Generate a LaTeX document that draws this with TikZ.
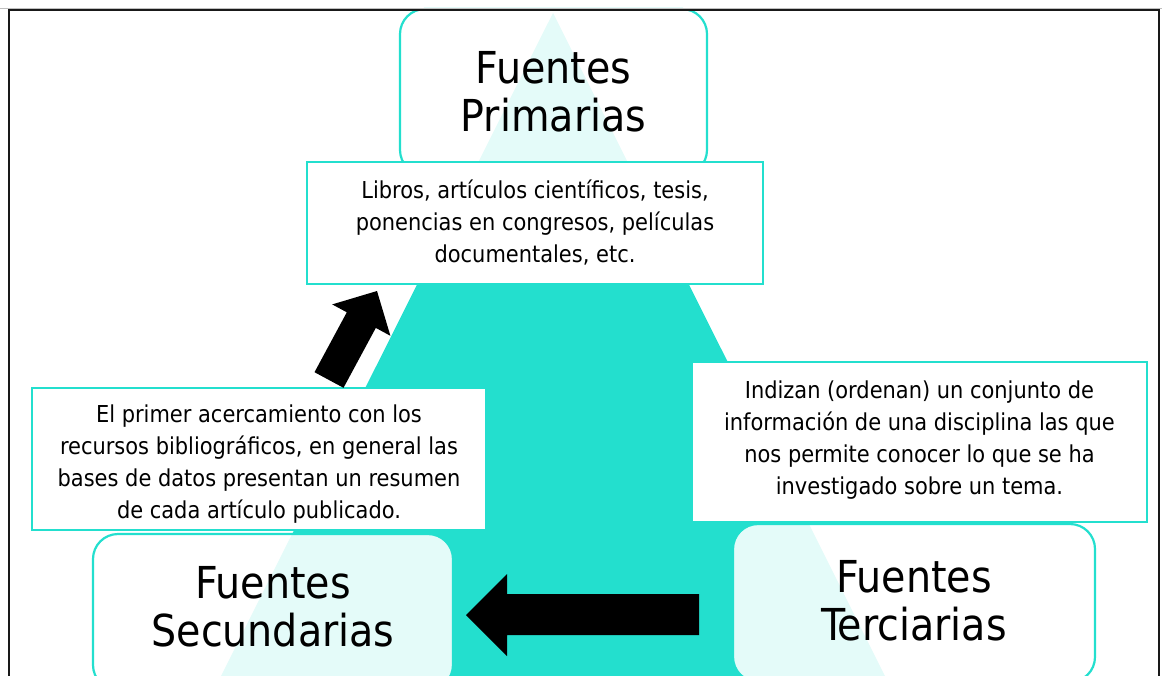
\documentclass[tikz,border=0pt]{standalone}
\usepackage{fontspec}
\setmainfont{DejaVu Sans Condensed}
\definecolor{tealA}{RGB}{35,223,206}
\definecolor{frameC}{RGB}{25,25,25}
\begin{document}
\begin{tikzpicture}[x=1pt,y=-1pt,
  titlebox/.style={draw=tealA, line width=2.2pt, rounded corners=25pt, fill=white, fill opacity=0.88},
  titletext/.style={align=center, inner sep=0pt, font=\fontsize{44}{48}\selectfont},
  textbox/.style={draw=tealA, line width=2.2pt, fill=white, inner sep=0pt},
  bodytext/.style={align=center, inner sep=0pt, font=\fontsize{23.3}{32}\selectfont},
  blockarrow/.style={fill=black}]
\useasboundingbox (0,0) rectangle (1162,675);
% pyramid
\fill[tealA] (553,13) -- (209,700) -- (897,700) -- cycle;
% title boxes
\node[titlebox, minimum width=307pt, minimum height=166pt] (prim) at (553.5,92) {};
\node[titlebox, minimum width=360pt, minimum height=156pt] (sec) at (273,612) {};
\node[titlebox, minimum width=362pt, minimum height=158pt] (ter) at (914,603) {};
\node[titletext] (primT) at (prim.center) {Fuentes\\Primarias};
\node[titletext] (secT) at ([yshift=5pt]sec.center) {Fuentes\\Secundarias};
\node[titletext] (terT) at ([yshift=2pt]ter.center) {Fuentes\\Terciarias};
% text boxes
\node[textbox, minimum width=456pt, minimum height=122pt] (pbox) at (535,223) {};
\node[textbox, minimum width=454pt, minimum height=142pt] (sbox) at (259,459) {};
\node[textbox, minimum width=455pt, minimum height=160pt] (tbox) at (919.5,442) {};
\node[bodytext] (ptext) at (pbox.center)
  {Libros, artículos científicos, tesis,\\ponencias en congresos, películas\\documentales, etc.};
\node[bodytext] (stext) at ([yshift=-5pt]sbox.center)
  {El primer acercamiento con los\\recursos bibliográficos, en general las\\bases de datos presentan un resumen\\de cada artículo publicado.};
\node[bodytext] (ttext) at ([yshift=2pt]tbox.center)
  {Indizan (ordenan) un conjunto de\\información de una disciplina las que\\nos permite conocer lo que se ha\\investigado sobre un tema.};
% block arrows
\fill[blockarrow] (314.5,372.2) -- (346.8,312.3) -- (332.2,304.4) -- (377,291) -- (390.4,335.8)
  -- (375.8,327.9) -- (343.5,387.8) -- cycle;
\fill[blockarrow] (699,594) -- (507,594) -- (507,574) -- (466,615) -- (507,656) -- (507,635) -- (699,635) -- cycle;
% frame
\draw[black!25, line width=1pt] (0,8) -- (1162,8);
\draw[frameC, line width=2.5pt] (9,700) -- (9,10) -- (1159,10) -- (1159,700);
\end{tikzpicture}
\end{document}
